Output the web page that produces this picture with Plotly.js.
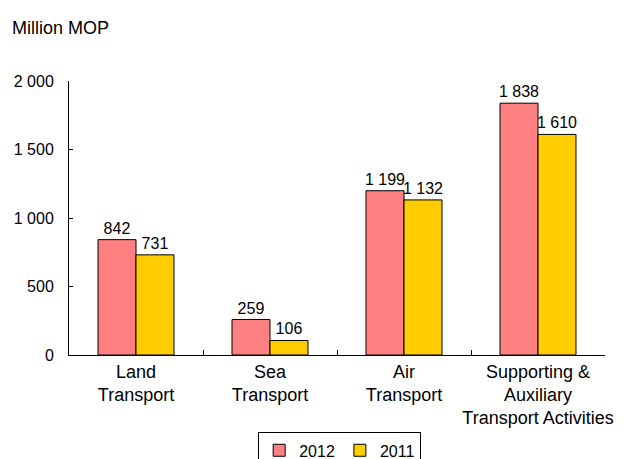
<!DOCTYPE html>
<html>
<head>
<meta charset="utf-8">
<script src="https://cdn.plot.ly/plotly-3.0.1.min.js"></script>
<style>html,body{margin:0;padding:0;background:#fff;}#chart{width:633px;height:459px;}</style>
</head>
<body>
<div id="chart"></div>
<script>
var categories = ["Land<br>Transport", "Sea<br>Transport", "Air<br>Transport", "Supporting &amp;<br>Auxiliary<br>Transport Activities"];
var values2012 = [842, 259, 1199, 1838];
var values2011 = [731, 106, 1132, 1610];
var seriesNames = ["2012", "2011"];
var yTicks = [0, 500, 1000, 1500, 2000];

var font = "Arial, 'Liberation Sans', sans-serif";
function bar(name, vals, color) {
  return {
    type: "bar", name: name, x: categories, y: vals,
    marker: {color: color, line: {color: "#000", width: 1}},
    texttemplate: "%{y:,}", textposition: "outside", cliponaxis: false,
    constraintext: "none",
    textfont: {family: font, size: 16, color: "#000"},
    hoverinfo: "skip"
  };
}
var data = [bar(seriesNames[0], values2012, "#FF8080"), bar(seriesNames[1], values2011, "#FFCC00")];
var layout = {
  width: 633, height: 459,
  margin: {l: 69, r: 28, t: 81, b: 104},
  paper_bgcolor: "#fff", plot_bgcolor: "#fff",
  separators: ". ",
  font: {family: font, size: 16, color: "#000"},
  barmode: "group", bargap: 0.433, bargroupgap: 0,
  showlegend: true,
  legend: {orientation: "h", x: 0.505, xanchor: "center", yref: "container", y: 0.058, yanchor: "top",
           bordercolor: "#000", borderwidth: 1, font: {size: 16}, itemwidth: 30,
           tracegroupgap: 0},
  xaxis: {type: "category", showline: true, linecolor: "#000", linewidth: 1,
          ticks: "inside", ticklen: 5, tickcolor: "#000", tickson: "boundaries",
          tickangle: 0, showgrid: false, tickfont: {size: 18}, automargin: false},
  yaxis: {range: [0, 2000], tickvals: yTicks, tickformat: ",d", showline: true,
          linecolor: "#000", linewidth: 1, ticks: "inside", ticklen: 4, tickcolor: "#000",
          ticklabelstandoff: 11,
          showgrid: false, zeroline: false, tickfont: {size: 16}, automargin: false},
  annotations: [{text: "Million MOP", xref: "paper", yref: "paper", x: -0.11, y: 1.236,
                 xanchor: "left", yanchor: "top", showarrow: false, font: {size: 18}}]
};
Plotly.newPlot("chart", data, layout, {staticPlot: true});
</script>
</body>
</html>
